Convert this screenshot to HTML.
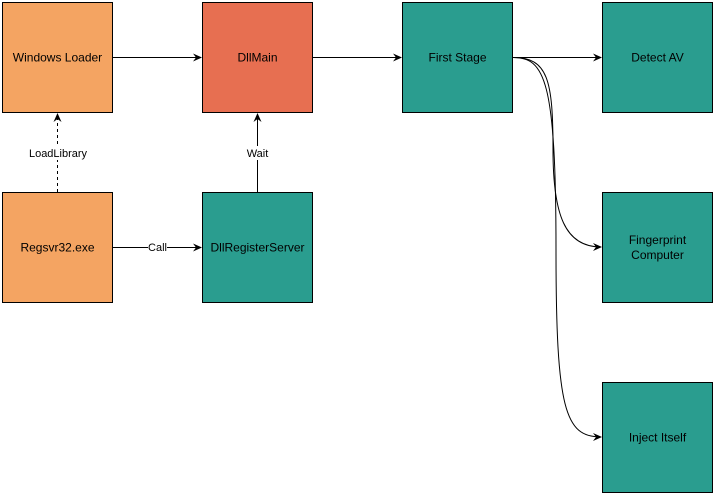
<!DOCTYPE html>
<html><head><meta charset="utf-8"><style>
html,body{margin:0;padding:0;background:#fff;width:715px;height:495px;overflow:hidden}
svg{display:block;font-family:"Liberation Sans",Arial,sans-serif}
</style></head><body>
<svg width="715" height="495" viewBox="0 0 715 495" xmlns="http://www.w3.org/2000/svg">
<defs><marker id="a" markerWidth="10" markerHeight="10" refX="8" refY="5" orient="auto" markerUnits="userSpaceOnUse"><path d="M0,1 L9,5 L0,9 L3,5 Z" fill="#000"/></marker></defs>
<g stroke="#000" stroke-width="1">
<rect x="2.5" y="2.5" width="110" height="110" fill="#F4A462"/>
<rect x="202.5" y="2.5" width="110" height="110" fill="#E76F51"/>
<rect x="402.5" y="2.5" width="110" height="110" fill="#2A9D8F"/>
<rect x="602.5" y="2.5" width="110" height="110" fill="#2A9D8F"/>
<rect x="2.5" y="192.5" width="110" height="110" fill="#F4A462"/>
<rect x="202.5" y="192.5" width="110" height="110" fill="#2A9D8F"/>
<rect x="602.5" y="192.5" width="110" height="110" fill="#2A9D8F"/>
<rect x="602.5" y="382.5" width="110" height="110" fill="#2A9D8F"/>
</g>
<g stroke="#000" stroke-width="1" fill="none">
<path d="M112.5,57.5 H201" marker-end="url(#a)"/>
<path d="M312.5,57.5 H401" marker-end="url(#a)"/>
<path d="M512.5,57.5 H601" marker-end="url(#a)"/>
<path d="M57.5,192 V114" stroke-dasharray="3,3" marker-end="url(#a)"/>
<path d="M257.5,192 V114" marker-end="url(#a)"/>
<path d="M112.5,247.5 H201" marker-end="url(#a)"/>
<path d="M512.5,57.5 C548,57 553,80 553,150 C553,215 565,247 601,247" marker-end="url(#a)"/>
<path d="M512.5,57.5 C545,57 556,80 556,250 C556,410 565,437 601,437" marker-end="url(#a)"/>
</g>
<rect x="27" y="146" width="62" height="14" fill="#fff"/>
<rect x="245" y="146" width="25" height="14" fill="#fff"/>
<rect x="148" y="240" width="19" height="14" fill="#fff"/>
<g font-size="11" text-anchor="middle" fill="#000">
<text x="58" y="157">LoadLibrary</text>
<text x="257.5" y="157">Wait</text>
<text x="157.5" y="251">Call</text>
</g>
<g font-size="12" text-anchor="middle" fill="#000">
<text x="57.5" y="61.5">Windows Loader</text>
<text x="257.5" y="61.5">DllMain</text>
<text x="457.5" y="61.5">First Stage</text>
<text x="657.5" y="61.5">Detect AV</text>
<text x="57.5" y="251.5">Regsvr32.exe</text>
<text x="257.5" y="251.5">DllRegisterServer</text>
<text x="657.5" y="244">Fingerprint</text>
<text x="657.5" y="259">Computer</text>
<text x="657.5" y="441.5">Inject Itself</text>
</g>
</svg>
</body></html>
